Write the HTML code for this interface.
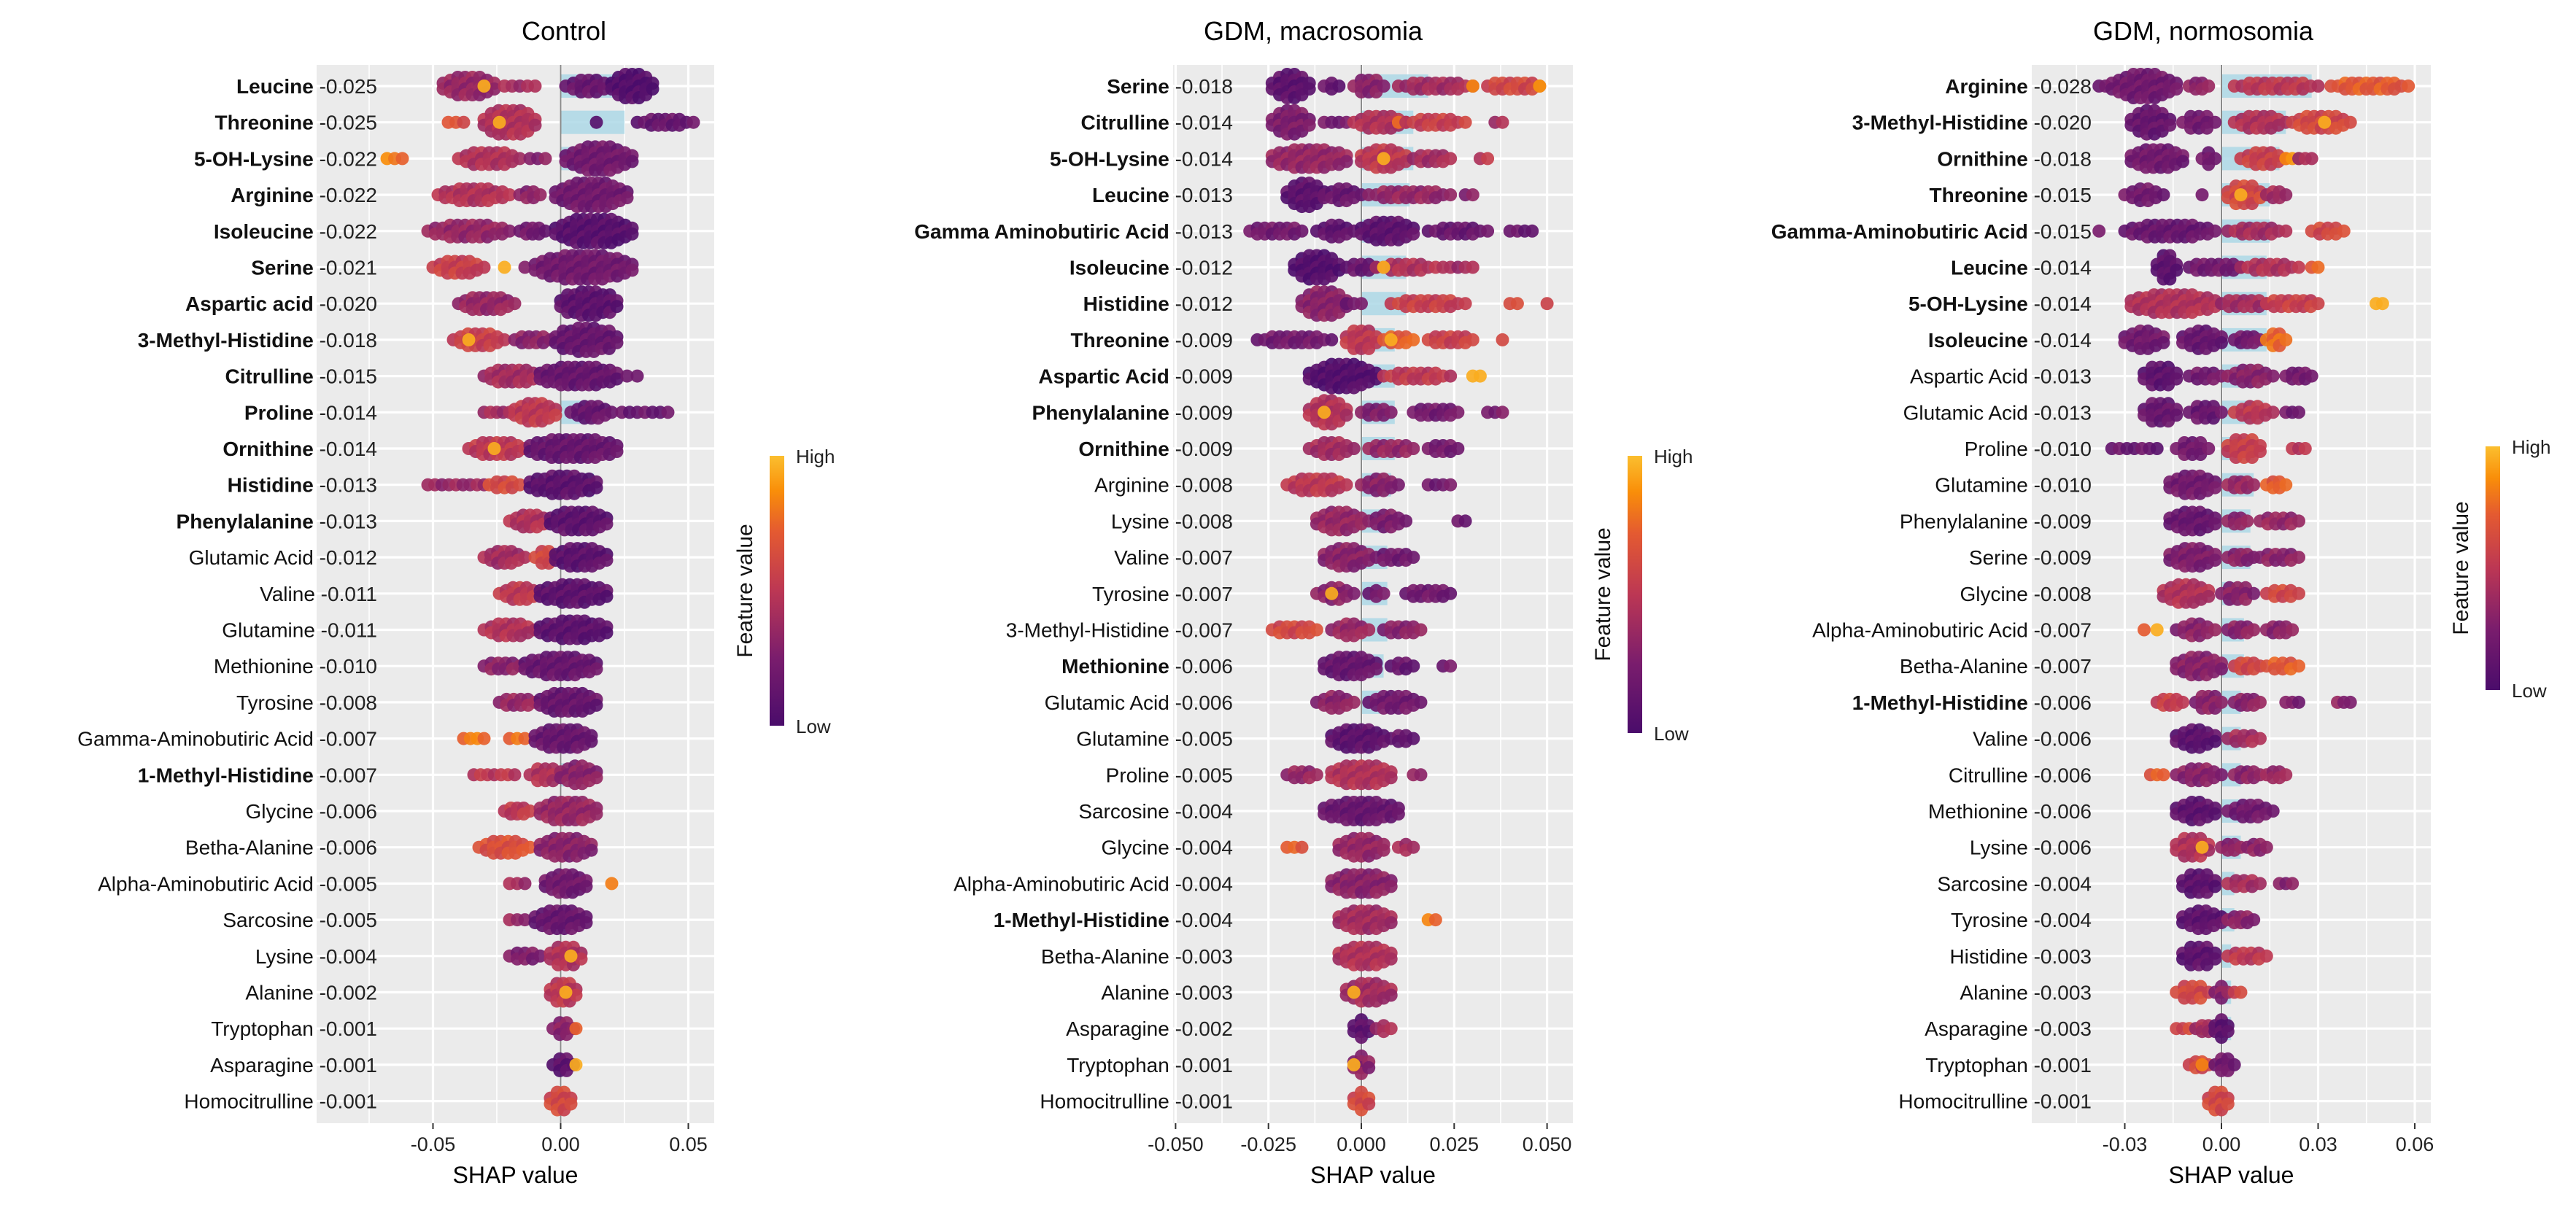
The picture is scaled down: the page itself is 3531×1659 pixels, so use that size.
<!DOCTYPE html>
<html><head><meta charset="utf-8"><title>SHAP summary</title>
<style>
html,body{margin:0;padding:0;background:#fff;}
svg{display:block;font-family:"Liberation Sans",Arial,sans-serif;}
</style></head>
<body>
<svg id="chart" xmlns="http://www.w3.org/2000/svg" width="3531" height="1659" viewBox="0 0 3531 1659">
<defs>
<linearGradient id="cmap" x1="0" y1="1" x2="0" y2="0">
<stop offset="0" stop-color="#4a0c6b"/><stop offset="0.25" stop-color="#7a1d6d"/><stop offset="0.5" stop-color="#bc3754"/><stop offset="0.72" stop-color="#e45a31"/><stop offset="0.87" stop-color="#f98e09"/><stop offset="1" stop-color="#fbbf2f"/>
</linearGradient>
</defs>
</svg>
<script>
// ---------- data ----------
const featuresControl=["Leucine","Threonine","5-OH-Lysine","Arginine","Isoleucine","Serine","Aspartic acid","3-Methyl-Histidine","Citrulline","Proline","Ornithine","Histidine","Phenylalanine","Glutamic Acid","Valine","Glutamine","Methionine","Tyrosine","Gamma-Aminobutiric Acid","1-Methyl-Histidine","Glycine","Betha-Alanine","Alpha-Aminobutiric Acid","Sarcosine","Lysine","Alanine","Tryptophan","Asparagine","Homocitrulline"];
const meanControl=[0.025,0.025,0.022,0.022,0.022,0.021,0.020,0.018,0.015,0.014,0.014,0.013,0.013,0.012,0.011,0.011,0.010,0.008,0.007,0.007,0.006,0.006,0.005,0.005,0.004,0.002,0.001,0.001,0.001];
const boldControl=[0,1,2,3,4,5,6,7,8,9,10,11,12,19];
// clusters: [from, to (x0.001 SHAP), max layers, feature value 0-1]
const swarmControl=[
[[-46,-26,4,.35],[-22,-10,1,.4],[-30,-30,1,.95],[2,20,3,.15],[20,36,5,.05]],
[[-44,-38,1,.65],[-30,-10,5,.45],[-24,-24,1,.95],[14,14,1,.1],[30,52,2,.15]],
[[-68,-62,1,.8],[-40,-16,3,.45],[-12,-6,1,.3],[2,28,5,.2]],
[[-48,-20,3,.45],[-16,-8,2,.3],[-2,26,5,.2]],
[[-52,-20,3,.35],[-16,-6,2,.2],[-2,28,5,.08]],
[[-50,-30,3,.55],[-22,-22,1,.95],[-14,-14,1,.35],[-10,28,5,.2]],
[[-40,-18,3,.35],[0,22,5,.1]],
[[-42,-22,3,.55],[-36,-36,1,.95],[-18,-4,2,.3],[-2,22,5,.15]],
[[-30,-8,3,.4],[-8,22,4,.15],[26,30,1,.15]],
[[-30,-20,1,.4],[-18,-2,4,.5],[4,20,3,.15],[24,42,1,.15]],
[[-36,-14,3,.5],[-26,-26,1,.9],[-12,22,4,.15]],
[[-52,-30,1,.35],[-28,-16,2,.6],[-12,14,4,.1]],
[[-20,-4,3,.45],[-4,18,4,.1]],
[[-30,-14,3,.4],[-10,-2,3,.6],[-2,18,4,.1]],
[[-24,-8,3,.5],[-8,18,4,.1]],
[[-30,-10,3,.45],[-8,18,4,.1]],
[[-30,-16,2,.3],[-14,14,4,.15]],
[[-24,-10,2,.35],[-8,14,4,.15]],
[[-38,-30,1,.8],[-20,-14,1,.75],[-10,12,4,.15]],
[[-34,-18,1,.5],[-12,0,3,.45],[0,14,4,.3]],
[[-22,-12,2,.5],[-8,14,4,.35]],
[[-32,-12,3,.65],[-8,12,4,.3]],
[[-20,-14,1,.4],[-6,10,4,.2],[20,20,1,.8]],
[[-20,-14,1,.35],[-10,10,4,.15]],
[[-20,-8,2,.25],[-4,8,4,.45],[4,4,1,.95]],
[[-4,6,4,.5],[2,2,1,.95]],
[[-3,5,3,.3],[6,6,1,.8]],
[[-3,5,3,.1],[6,6,1,.95]],
[[-4,4,4,.6]]];

const featuresMacro=["Serine","Citrulline","5-OH-Lysine","Leucine","Gamma Aminobutiric Acid","Isoleucine","Histidine","Threonine","Aspartic Acid","Phenylalanine","Ornithine","Arginine","Lysine","Valine","Tyrosine","3-Methyl-Histidine","Methionine","Glutamic Acid","Glutamine","Proline","Sarcosine","Glycine","Alpha-Aminobutiric Acid","1-Methyl-Histidine","Betha-Alanine","Alanine","Asparagine","Tryptophan","Homocitrulline"];
const meanMacro=[0.018,0.014,0.014,0.013,0.013,0.012,0.012,0.009,0.009,0.009,0.009,0.008,0.008,0.007,0.007,0.007,0.006,0.006,0.005,0.005,0.004,0.004,0.004,0.004,0.003,0.003,0.002,0.001,0.001];
const boldMacro=[0,1,2,3,4,5,6,7,8,9,10,16,23];
const swarmMacro=[
[[-24,-14,5,.1],[-10,-6,2,.15],[-2,6,3,.3],[10,30,2,.4],[30,30,1,.9],[34,48,2,.6],[48,48,1,.9]],
[[-24,-14,5,.25],[-10,-4,1,.2],[-2,12,3,.45],[10,10,1,.8],[12,28,2,.55],[36,38,1,.4]],
[[-24,-4,4,.35],[0,12,4,.5],[6,6,1,.95],[14,24,2,.4],[32,34,1,.5]],
[[-20,-10,5,.1],[-10,0,3,.15],[2,24,2,.35],[28,30,1,.3]],
[[-30,-16,2,.2],[-12,-2,3,.1],[0,14,4,.1],[18,34,2,.15],[40,46,1,.15]],
[[-18,-6,5,.05],[-4,4,2,.15],[4,20,2,.45],[6,6,1,.95],[22,30,1,.4]],
[[-16,-4,5,.3],[-4,0,1,.2],[8,28,2,.55],[40,42,1,.6],[50,50,1,.5]],
[[-28,-8,2,.2],[-4,4,4,.5],[6,14,2,.7],[8,8,1,.95],[18,30,2,.55],[38,38,1,.6]],
[[-14,4,5,.05],[6,24,2,.5],[30,32,1,.95]],
[[-14,-4,5,.45],[-10,-10,1,.95],[0,8,2,.25],[14,26,2,.2],[34,38,1,.25]],
[[-14,-2,3,.4],[2,14,2,.35],[18,26,2,.2]],
[[-20,-4,3,.5],[0,10,3,.3],[18,24,1,.2]],
[[-12,0,4,.35],[2,12,3,.25],[26,28,1,.2]],
[[-10,2,4,.3],[4,14,2,.2]],
[[-12,-2,3,.3],[-8,-8,1,.95],[2,6,2,.2],[12,24,2,.2]],
[[-24,-12,2,.6],[-8,2,3,.35],[6,16,2,.3]],
[[-10,4,4,.15],[8,14,2,.15],[22,24,1,.2]],
[[-12,-2,3,.3],[2,16,3,.2]],
[[-8,6,4,.1],[8,14,2,.15]],
[[-20,-12,2,.35],[-8,8,4,.45],[14,16,1,.3]],
[[-10,10,4,.15]],
[[-20,-16,1,.7],[-6,6,4,.35],[10,14,2,.4]],
[[-8,8,4,.3]],
[[-6,8,4,.4],[18,20,1,.8]],
[[-6,8,4,.45]],
[[-4,8,4,.4],[-2,-2,1,.95]],
[[-2,2,4,.1],[4,8,2,.4]],
[[-2,2,4,.3],[-2,-2,1,.95]],
[[-2,2,4,.6]]];

const featuresNormo=["Arginine","3-Methyl-Histidine","Ornithine","Threonine","Gamma-Aminobutiric Acid","Leucine","5-OH-Lysine","Isoleucine","Aspartic Acid","Glutamic Acid","Proline","Glutamine","Phenylalanine","Serine","Glycine","Alpha-Aminobutiric Acid","Betha-Alanine","1-Methyl-Histidine","Valine","Citrulline","Methionine","Lysine","Sarcosine","Tyrosine","Histidine","Alanine","Asparagine","Tryptophan","Homocitrulline"];
const meanNormo=[0.028,0.020,0.018,0.015,0.015,0.014,0.014,0.014,0.013,0.013,0.010,0.010,0.009,0.009,0.008,0.007,0.007,0.006,0.006,0.006,0.006,0.006,0.004,0.004,0.003,0.003,0.003,0.001,0.001];
const boldNormo=[0,1,2,3,4,5,6,7,17];
const swarmNormo=[
[[-38,-36,1,.15],[-34,-14,5,.2],[-10,-4,2,.3],[4,30,2,.5],[34,58,2,.7]],
[[-28,-16,5,.15],[-12,-2,3,.2],[4,20,3,.45],[22,40,3,.6],[32,32,1,.95]],
[[-28,-12,4,.2],[-6,-2,3,.2],[6,20,3,.55],[20,24,1,.9],[24,28,1,.4]],
[[-30,-18,3,.2],[-6,-6,1,.2],[2,12,4,.6],[6,6,1,.95],[14,20,2,.4]],
[[-38,-38,1,.2],[-30,-2,3,.15],[6,6,1,.9],[2,20,2,.4],[28,38,2,.6]],
[[-20,-14,5,.1],[-10,6,2,.2],[6,24,2,.45],[28,30,1,.7]],
[[-28,-2,4,.45],[0,14,2,.4],[14,30,2,.55],[48,50,1,.95]],
[[-30,-18,4,.2],[-12,0,4,.15],[4,12,2,.2],[14,20,3,.75]],
[[-24,-14,4,.1],[-10,0,2,.2],[2,16,3,.3],[20,28,2,.2]],
[[-24,-14,4,.15],[-10,0,3,.15],[4,16,3,.5],[20,24,1,.2]],
[[-34,-20,1,.15],[-14,-4,3,.2],[2,12,4,.55],[22,26,1,.5]],
[[-16,-2,4,.2],[2,10,2,.35],[14,20,2,.7]],
[[-16,-2,4,.15],[2,8,2,.3],[12,24,2,.35]],
[[-16,-2,4,.25],[2,10,2,.3],[12,24,2,.3]],
[[-18,-4,4,.45],[0,10,3,.3],[14,24,2,.6]],
[[-24,-24,1,.7],[-20,-20,1,.95],[-14,-2,3,.3],[2,10,2,.3],[14,22,2,.3]],
[[-14,0,4,.3],[4,12,2,.6],[14,24,2,.7]],
[[-20,-12,2,.55],[-8,0,3,.3],[4,12,2,.3],[20,24,1,.25],[36,40,1,.3]],
[[-14,-2,4,.1],[2,12,2,.4]],
[[-22,-18,1,.7],[-14,0,3,.3],[4,12,2,.3],[14,20,2,.35]],
[[-14,-2,4,.1],[2,16,3,.2]],
[[-14,-4,4,.45],[-6,-6,1,.95],[0,6,2,.3],[8,14,2,.3]],
[[-12,-2,4,.1],[2,12,2,.4],[18,22,1,.3]],
[[-12,0,4,.1],[2,10,2,.3]],
[[-12,-2,4,.1],[2,14,2,.5]],
[[-14,-4,3,.6],[-2,2,3,.3],[4,6,1,.6]],
[[-14,-10,1,.6],[-6,-6,1,.9],[-8,-2,2,.4],[-2,2,4,.1]],
[[-10,-4,2,.6],[-6,-6,1,.9],[-2,4,3,.2]],
[[-4,2,4,.6]]];

const ticksControl=[-0.05,0,0.05], tickLabelsControl=["-0.05","0.00","0.05"];
const ticksMacro=[-0.05,-0.025,0,0.025,0.05], tickLabelsMacro=["-0.050","-0.025","0.000","0.025","0.050"];
const ticksNormo=[-0.03,0,0.03,0.06], tickLabelsNormo=["-0.03","0.00","0.03","0.06"];

// ---------- layout ----------
const NS="http://www.w3.org/2000/svg";
const svg=document.getElementById('chart');
function el(tag,attrs,parent){const e=document.createElementNS(NS,tag);for(const k in attrs)e.setAttribute(k,attrs[k]);(parent||svg).appendChild(e);return e;}
const stops=[[0,[74,12,107]],[0.25,[122,29,109]],[0.5,[188,55,84]],[0.72,[228,90,49]],[0.87,[249,142,9]],[1,[251,191,47]]];
function cmap(v){v=Math.max(0,Math.min(1,v));for(let i=1;i<stops.length;i++){if(v<=stops[i][0]){const a=stops[i-1],b=stops[i];const t=(v-a[0])/(b[0]-a[0]);const c=a[1].map((x,j)=>Math.round(x+(b[1][j]-x)*t));return `rgb(${c[0]},${c[1]},${c[2]})`;}}return 'rgb(251,191,47)';}

const ROW0=118, ROWSTEP=49.7, TOP=89, BOTTOM=1540;
function rowY(i){return ROW0+i*ROWSTEP;}

function panel(cfg){
  const g=el('g',{});
  
  
  const xs=v=>cfg.zero+v*cfg.scale;
  const bg=el('rect',{x:cfg.left,y:TOP,width:cfg.right-cfg.left,height:BOTTOM-TOP,fill:'#ebebeb'},g);
  
  
  cfg.minor.forEach(v=>{const l=el('line',{x1:xs(v),x2:xs(v),y1:TOP,y2:BOTTOM,stroke:'#fff','stroke-width':1.6},g);
    });
  cfg.ticks.forEach(v=>{const l=el('line',{x1:xs(v),x2:xs(v),y1:TOP,y2:BOTTOM,stroke:'#fff','stroke-width':3.2},g);
    });
  cfg.features.forEach((f,i)=>{const l=el('line',{x1:cfg.left,x2:cfg.right,y1:rowY(i),y2:rowY(i),stroke:'#fff','stroke-width':3.2},g);
    });
  cfg.means.forEach((m,i)=>{const b=el('rect',{x:xs(0),y:rowY(i)-16,width:xs(m)-xs(0),height:32,fill:'#add8e6','fill-opacity':0.85},g);
    });
  const z=el('line',{x1:xs(0),x2:xs(0),y1:TOP,y2:BOTTOM,stroke:'#8a8a8a','stroke-width':2},g);
  
  const dg=el('g',{'fill-opacity':0.92},g);
  
  
  cfg.swarm.forEach((clusters,i)=>{
    const y0=rowY(i);
    clusters.forEach((c,ci)=>{
      const a=c[0]/1000,b=c[1]/1000,t=c[2],cv=c[3];
      const x0=xs(a),x1=xs(b);
      const n=Math.max(1,Math.round((x1-x0)/10)+1);
      for(let j=0;j<n;j++){
        const x=n===1?(x0+x1)/2:x0+(x1-x0)*j/(n-1);
        const u=n===1?0:(2*j/(n-1)-1);
        const layers=Math.max(1,Math.round(t*Math.sqrt(Math.max(0,1-u*u*0.85))));
        for(let k=0;k<layers;k++){
          const off=(k-(layers-1)/2)*8;
          const jit=0.07*Math.sin(j*1.93+k*2.7+i*0.61+ci);
          const d=el('circle',{cx:x.toFixed(1),cy:(y0+off).toFixed(1),r:9,fill:cmap(cv+(cv>0.9?0:jit))},dg);
          
          
        }
      }
    });
  });
  cfg.features.forEach((f,i)=>{
    const t=el('text',{x:cfg.labelEnd,y:rowY(i)+10,'text-anchor':'end','font-size':28,fill:'#111'},g);
    
    const s1=el('tspan',{'font-weight':cfg.bold.includes(i)?'bold':'normal'},t);s1.textContent=f;
    const s2=el('tspan',{fill:'#222'},t);s2.textContent=' -'+cfg.means[i].toFixed(3);
  });
  cfg.ticks.forEach((v,k)=>{
    const tk=el('line',{x1:xs(v),x2:xs(v),y1:BOTTOM,y2:BOTTOM+8,stroke:'#333','stroke-width':2},g);
    
    const tl=el('text',{x:xs(v),y:1578,'text-anchor':'middle','font-size':27,fill:'#222'},g);
    
    tl.textContent=cfg.tickLabels[k];
  });
  const xt=el('text',{x:(cfg.left+cfg.right)/2,y:1622,'text-anchor':'middle','font-size':32,fill:'#000'},g);
  
  xt.textContent='SHAP value';
  const tt=el('text',{x:cfg.titleX,y:55,'text-anchor':'middle','font-size':36,fill:'#000'},g);
  
  tt.textContent=cfg.title;
  const lg=el('g',{},g);
  
  const cb=el('rect',{x:cfg.leg[0],y:cfg.leg[1],width:20,height:cfg.leg[2]-cfg.leg[1],fill:'url(#cmap)'},lg);
  
  const hi=el('text',{x:cfg.leg[0]+36,y:cfg.leg[1]+10,'font-size':26,fill:'#222'},lg);
  hi.textContent='High';
  const lo=el('text',{x:cfg.leg[0]+36,y:cfg.leg[2]+10,'font-size':26,fill:'#222'},lg);
  lo.textContent='Low';
  const cy=(cfg.leg[1]+cfg.leg[2])/2;
  const ft=el('text',{x:cfg.leg[0]-24,y:cy,'text-anchor':'middle','font-size':30,fill:'#111',transform:`rotate(-90 ${cfg.leg[0]-24} ${cy})`},lg);
  ft.textContent='Feature value';
}

panel({name:'panel-control',title:'Control',titleX:773,left:434,right:979,zero:768.5,scale:3500,labelEnd:517,
  ticks:ticksControl,tickLabels:tickLabelsControl,minor:[-0.075,-0.025,0.025],
  features:featuresControl,means:meanControl,bold:boldControl,swarm:swarmControl,leg:[1055,625,995]});
panel({name:'panel-gdm-macrosomia',title:'GDM, macrosomia',titleX:1800,left:1608,right:2156,zero:1866,scale:5092,labelEnd:1690,
  ticks:ticksMacro,tickLabels:tickLabelsMacro,minor:[-0.0375,-0.0125,0.0125,0.0375],
  features:featuresMacro,means:meanMacro,bold:boldMacro,swarm:swarmMacro,leg:[2231,625,1005]});
panel({name:'panel-gdm-normosomia',title:'GDM, normosomia',titleX:3020,left:2785,right:3332,zero:3045,scale:4417,labelEnd:2867,
  ticks:ticksNormo,tickLabels:tickLabelsNormo,minor:[-0.045,-0.015,0.015,0.045],
  features:featuresNormo,means:meanNormo,bold:boldNormo,swarm:swarmNormo,leg:[3407,612,946]});
</script>
</body></html>
